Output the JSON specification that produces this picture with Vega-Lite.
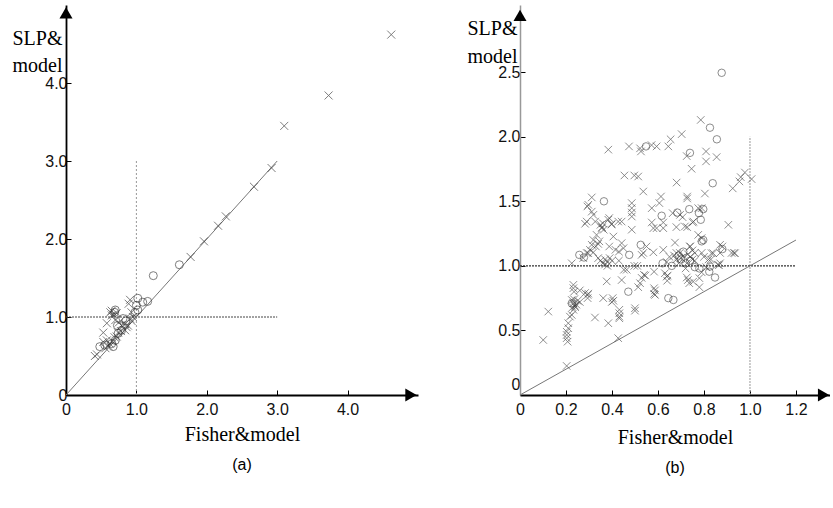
{
  "$schema": "https://vega.github.io/schema/vega-lite/v6.json",
  "padding": {"left": 12, "top": 5, "right": 0, "bottom": 0},
  "autosize": {"type": "pad"},
  "spacing": 102,
  "bounds": "flush",
  "background": "white",
  "config": {
    "view": {"stroke": null},
    "axis": {
      "grid": false,
      "labelFont": "Liberation Sans",
      "labelFontSize": 16,
      "labelColor": "#111",
      "labelFlush": false,
      "labelOverlap": false,
      "tickSize": -5,
      "tickColor": "#000",
      "tickWidth": 1,
      "domainColor": "#000",
      "domainWidth": 1.8,
      "titleFont": "Liberation Serif",
      "titleFontSize": 20,
      "titleFontWeight": "normal",
      "titleColor": "#000"
    },
    "title": {"font": "Liberation Sans", "fontSize": 16, "fontWeight": "normal", "color": "#000", "orient": "bottom", "offset": 13}
  },
  "datasets": {
    "pa": [
      {"x": 4.62, "y": 4.62, "m": "x"}, {"x": 3.73, "y": 3.84, "m": "x"}, {"x": 3.10, "y": 3.45, "m": "x"},
      {"x": 2.92, "y": 2.91, "m": "x"}, {"x": 2.67, "y": 2.67, "m": "x"}, {"x": 2.27, "y": 2.29, "m": "x"},
      {"x": 2.16, "y": 2.17, "m": "x"}, {"x": 1.96, "y": 1.97, "m": "x"}, {"x": 1.77, "y": 1.77, "m": "x"},
      {"x": 0.41, "y": 0.50, "m": "x"}, {"x": 0.44, "y": 0.52, "m": "x"}, {"x": 0.53, "y": 0.68, "m": "x"},
      {"x": 0.58, "y": 0.70, "m": "x"}, {"x": 0.53, "y": 0.80, "m": "x"}, {"x": 0.58, "y": 0.92, "m": "x"},
      {"x": 0.63, "y": 1.06, "m": "x"}, {"x": 0.65, "y": 1.08, "m": "x"}, {"x": 0.65, "y": 1.02, "m": "x"},
      {"x": 0.70, "y": 0.96, "m": "x"}, {"x": 0.75, "y": 0.93, "m": "x"}, {"x": 0.79, "y": 0.89, "m": "x"},
      {"x": 0.84, "y": 0.91, "m": "x"}, {"x": 0.74, "y": 0.80, "m": "x"}, {"x": 0.60, "y": 0.63, "m": "x"},
      {"x": 0.69, "y": 0.74, "m": "x"}, {"x": 0.84, "y": 0.83, "m": "x"}, {"x": 0.88, "y": 0.89, "m": "x"},
      {"x": 0.91, "y": 0.98, "m": "x"}, {"x": 0.93, "y": 1.06, "m": "x"}, {"x": 0.89, "y": 1.17, "m": "x"},
      {"x": 0.91, "y": 1.22, "m": "x"}, {"x": 0.95, "y": 1.00, "m": "x"}, {"x": 0.93, "y": 0.95, "m": "x"},
      {"x": 0.62, "y": 0.66, "m": "x"}, {"x": 0.66, "y": 0.69, "m": "x"}, {"x": 0.72, "y": 0.75, "m": "x"},
      {"x": 0.78, "y": 0.82, "m": "x"}, {"x": 0.86, "y": 0.87, "m": "x"}, {"x": 0.56, "y": 0.60, "m": "x"},
      {"x": 0.68, "y": 1.03, "m": "x"}, {"x": 0.72, "y": 1.05, "m": "x"},
      {"x": 1.24, "y": 1.53, "m": "o"}, {"x": 1.61, "y": 1.67, "m": "o"}, {"x": 1.09, "y": 1.19, "m": "o"},
      {"x": 1.16, "y": 1.20, "m": "o"}, {"x": 1.02, "y": 1.24, "m": "o"}, {"x": 1.02, "y": 1.09, "m": "o"},
      {"x": 0.48, "y": 0.62, "m": "o"}, {"x": 0.55, "y": 0.64, "m": "o"}, {"x": 0.69, "y": 1.06, "m": "o"},
      {"x": 0.73, "y": 0.89, "m": "o"}, {"x": 0.81, "y": 0.98, "m": "o"}, {"x": 0.79, "y": 0.83, "m": "o"},
      {"x": 0.70, "y": 0.70, "m": "o"}, {"x": 0.65, "y": 0.66, "m": "o"}, {"x": 0.98, "y": 1.06, "m": "o"},
      {"x": 1.00, "y": 1.15, "m": "o"}, {"x": 0.67, "y": 0.62, "m": "o"}, {"x": 0.74, "y": 0.79, "m": "o"},
      {"x": 0.85, "y": 0.95, "m": "o"}, {"x": 0.70, "y": 1.09, "m": "o"}
    ],
    "pb": [
      {"x": 0.877, "y": 2.495, "m": "o"}, {"x": 0.826, "y": 2.07, "m": "o"}, {"x": 0.856, "y": 1.98, "m": "o"},
      {"x": 0.548, "y": 1.925, "m": "o"}, {"x": 0.739, "y": 1.875, "m": "o"}, {"x": 0.838, "y": 1.64, "m": "o"},
      {"x": 0.365, "y": 1.50, "m": "o"}, {"x": 0.616, "y": 1.388, "m": "o"}, {"x": 0.684, "y": 1.413, "m": "o"},
      {"x": 0.736, "y": 1.439, "m": "o"}, {"x": 0.778, "y": 1.408, "m": "o"}, {"x": 0.797, "y": 1.439, "m": "o"},
      {"x": 0.786, "y": 1.357, "m": "o"}, {"x": 0.797, "y": 1.20, "m": "o"}, {"x": 0.79, "y": 1.19, "m": "o"},
      {"x": 0.258, "y": 1.085, "m": "o"}, {"x": 0.278, "y": 1.065, "m": "o"}, {"x": 0.475, "y": 1.085, "m": "o"},
      {"x": 0.525, "y": 1.163, "m": "o"}, {"x": 0.71, "y": 1.11, "m": "o"}, {"x": 0.70, "y": 1.05, "m": "o"},
      {"x": 0.72, "y": 1.02, "m": "o"}, {"x": 0.62, "y": 1.02, "m": "o"}, {"x": 0.826, "y": 0.995, "m": "o"},
      {"x": 0.823, "y": 0.955, "m": "o"}, {"x": 0.848, "y": 0.91, "m": "o"}, {"x": 0.645, "y": 0.75, "m": "o"},
      {"x": 0.667, "y": 0.736, "m": "o"}, {"x": 0.471, "y": 0.80, "m": "o"}, {"x": 0.225, "y": 0.71, "m": "o"},
      {"x": 0.69, "y": 1.08, "m": "o"}, {"x": 0.74, "y": 1.04, "m": "o"}, {"x": 0.76, "y": 0.99, "m": "o"},
      {"x": 0.78, "y": 0.98, "m": "o"}, {"x": 0.88, "y": 1.13, "m": "o"}, {"x": 0.66, "y": 1.00, "m": "o"},
      {"x": 0.786, "y": 2.13, "m": "x"}, {"x": 0.384, "y": 1.90, "m": "x"}, {"x": 0.474, "y": 1.925, "m": "x"},
      {"x": 0.522, "y": 1.91, "m": "x"}, {"x": 0.526, "y": 1.886, "m": "x"}, {"x": 0.572, "y": 1.935, "m": "x"},
      {"x": 0.594, "y": 1.925, "m": "x"}, {"x": 0.645, "y": 1.925, "m": "x"}, {"x": 0.655, "y": 1.98, "m": "x"},
      {"x": 0.703, "y": 2.02, "m": "x"}, {"x": 0.725, "y": 1.85, "m": "x"}, {"x": 0.809, "y": 1.886, "m": "x"},
      {"x": 0.809, "y": 1.809, "m": "x"}, {"x": 0.855, "y": 1.842, "m": "x"}, {"x": 0.746, "y": 1.752, "m": "x"},
      {"x": 0.454, "y": 1.70, "m": "x"}, {"x": 0.497, "y": 1.70, "m": "x"}, {"x": 0.514, "y": 1.692, "m": "x"},
      {"x": 0.681, "y": 1.645, "m": "x"}, {"x": 0.536, "y": 1.576, "m": "x"}, {"x": 0.727, "y": 1.537, "m": "x"},
      {"x": 0.727, "y": 1.522, "m": "x"}, {"x": 0.804, "y": 1.56, "m": "x"}, {"x": 0.925, "y": 1.60, "m": "x"},
      {"x": 0.954, "y": 1.654, "m": "x"}, {"x": 0.96, "y": 1.687, "m": "x"}, {"x": 0.978, "y": 1.723, "m": "x"},
      {"x": 1.007, "y": 1.672, "m": "x"}, {"x": 0.613, "y": 1.537, "m": "x"}, {"x": 0.606, "y": 1.486, "m": "x"},
      {"x": 0.573, "y": 1.447, "m": "x"}, {"x": 0.486, "y": 1.486, "m": "x"}, {"x": 0.486, "y": 1.447, "m": "x"},
      {"x": 0.486, "y": 1.413, "m": "x"}, {"x": 0.486, "y": 1.382, "m": "x"}, {"x": 0.664, "y": 1.408, "m": "x"},
      {"x": 0.696, "y": 1.395, "m": "x"}, {"x": 0.775, "y": 1.447, "m": "x"}, {"x": 0.79, "y": 1.447, "m": "x"},
      {"x": 0.754, "y": 1.343, "m": "x"}, {"x": 0.717, "y": 1.305, "m": "x"}, {"x": 0.906, "y": 1.318, "m": "x"},
      {"x": 0.573, "y": 1.336, "m": "x"}, {"x": 0.58, "y": 1.292, "m": "x"}, {"x": 0.594, "y": 1.292, "m": "x"},
      {"x": 0.623, "y": 1.292, "m": "x"}, {"x": 0.623, "y": 1.336, "m": "x"}, {"x": 0.355, "y": 1.292, "m": "x"},
      {"x": 0.384, "y": 1.357, "m": "x"}, {"x": 0.399, "y": 1.326, "m": "x"}, {"x": 0.427, "y": 1.343, "m": "x"},
      {"x": 0.442, "y": 1.343, "m": "x"}, {"x": 0.486, "y": 1.28, "m": "x"}, {"x": 0.406, "y": 1.227, "m": "x"},
      {"x": 0.775, "y": 1.24, "m": "x"}, {"x": 0.79, "y": 1.215, "m": "x"}, {"x": 0.707, "y": 1.377, "m": "x"},
      {"x": 0.727, "y": 1.30, "m": "x"}, {"x": 0.751, "y": 1.336, "m": "x"},
      {"x": 0.297, "y": 1.473, "m": "x"}, {"x": 0.312, "y": 1.53, "m": "x"}, {"x": 0.293, "y": 1.46, "m": "x"},
      {"x": 0.312, "y": 1.42, "m": "x"}, {"x": 0.319, "y": 1.395, "m": "x"}, {"x": 0.29, "y": 1.343, "m": "x"},
      {"x": 0.283, "y": 1.326, "m": "x"}, {"x": 0.327, "y": 1.343, "m": "x"}, {"x": 0.35, "y": 1.318, "m": "x"},
      {"x": 0.357, "y": 1.30, "m": "x"}, {"x": 0.364, "y": 1.28, "m": "x"}, {"x": 0.36, "y": 1.33, "m": "x"},
      {"x": 0.388, "y": 1.37, "m": "x"}, {"x": 0.398, "y": 1.32, "m": "x"}, {"x": 0.333, "y": 1.24, "m": "x"},
      {"x": 0.319, "y": 1.20, "m": "x"}, {"x": 0.345, "y": 1.19, "m": "x"}, {"x": 0.312, "y": 1.163, "m": "x"},
      {"x": 0.304, "y": 1.124, "m": "x"}, {"x": 0.297, "y": 1.098, "m": "x"}, {"x": 0.388, "y": 1.15, "m": "x"},
      {"x": 0.415, "y": 1.124, "m": "x"}, {"x": 0.43, "y": 1.11, "m": "x"}, {"x": 0.442, "y": 1.176, "m": "x"},
      {"x": 0.45, "y": 1.137, "m": "x"}, {"x": 0.275, "y": 1.06, "m": "x"}, {"x": 0.225, "y": 1.02, "m": "x"},
      {"x": 0.34, "y": 1.06, "m": "x"}, {"x": 0.35, "y": 1.04, "m": "x"}, {"x": 0.36, "y": 1.02, "m": "x"},
      {"x": 0.37, "y": 1.05, "m": "x"}, {"x": 0.38, "y": 1.03, "m": "x"}, {"x": 0.39, "y": 1.06, "m": "x"},
      {"x": 0.40, "y": 1.04, "m": "x"}, {"x": 0.37, "y": 1.01, "m": "x"}, {"x": 0.38, "y": 1.00, "m": "x"},
      {"x": 0.43, "y": 1.04, "m": "x"}, {"x": 0.464, "y": 0.97, "m": "x"}, {"x": 0.497, "y": 1.00, "m": "x"},
      {"x": 0.51, "y": 1.00, "m": "x"}, {"x": 0.529, "y": 1.085, "m": "x"}, {"x": 0.536, "y": 1.10, "m": "x"},
      {"x": 0.55, "y": 1.15, "m": "x"}, {"x": 0.539, "y": 0.93, "m": "x"}, {"x": 0.529, "y": 0.907, "m": "x"},
      {"x": 0.522, "y": 0.866, "m": "x"}, {"x": 0.514, "y": 0.835, "m": "x"}, {"x": 0.442, "y": 0.89, "m": "x"},
      {"x": 0.377, "y": 0.88, "m": "x"}, {"x": 0.232, "y": 0.853, "m": "x"}, {"x": 0.232, "y": 0.827, "m": "x"},
      {"x": 0.26, "y": 0.81, "m": "x"}, {"x": 0.283, "y": 0.79, "m": "x"}, {"x": 0.297, "y": 0.785, "m": "x"},
      {"x": 0.225, "y": 0.736, "m": "x"}, {"x": 0.232, "y": 0.71, "m": "x"}, {"x": 0.239, "y": 0.69, "m": "x"},
      {"x": 0.229, "y": 0.68, "m": "x"}, {"x": 0.362, "y": 0.75, "m": "x"}, {"x": 0.403, "y": 0.75, "m": "x"},
      {"x": 0.399, "y": 0.72, "m": "x"}, {"x": 0.101, "y": 0.426, "m": "x"}, {"x": 0.123, "y": 0.646, "m": "x"},
      {"x": 0.203, "y": 0.49, "m": "x"}, {"x": 0.203, "y": 0.465, "m": "x"}, {"x": 0.203, "y": 0.44, "m": "x"},
      {"x": 0.207, "y": 0.413, "m": "x"}, {"x": 0.21, "y": 0.517, "m": "x"}, {"x": 0.21, "y": 0.556, "m": "x"},
      {"x": 0.203, "y": 0.225, "m": "x"}, {"x": 0.225, "y": 0.62, "m": "x"}, {"x": 0.232, "y": 0.66, "m": "x"},
      {"x": 0.217, "y": 0.607, "m": "x"}, {"x": 0.235, "y": 0.74, "m": "x"}, {"x": 0.245, "y": 0.70, "m": "x"},
      {"x": 0.25, "y": 0.73, "m": "x"}, {"x": 0.24, "y": 0.68, "m": "x"}, {"x": 0.26, "y": 0.72, "m": "x"},
      {"x": 0.235, "y": 0.80, "m": "x"}, {"x": 0.294, "y": 0.775, "m": "x"}, {"x": 0.294, "y": 0.75, "m": "x"},
      {"x": 0.326, "y": 0.60, "m": "x"}, {"x": 0.406, "y": 0.73, "m": "x"}, {"x": 0.384, "y": 0.556, "m": "x"},
      {"x": 0.427, "y": 0.44, "m": "x"}, {"x": 0.432, "y": 0.66, "m": "x"}, {"x": 0.432, "y": 0.633, "m": "x"},
      {"x": 0.432, "y": 0.607, "m": "x"}, {"x": 0.432, "y": 0.594, "m": "x"}, {"x": 0.50, "y": 0.672, "m": "x"},
      {"x": 0.50, "y": 0.653, "m": "x"}, {"x": 0.583, "y": 0.955, "m": "x"}, {"x": 0.583, "y": 0.827, "m": "x"},
      {"x": 0.583, "y": 0.783, "m": "x"}, {"x": 0.545, "y": 0.925, "m": "x"}, {"x": 0.452, "y": 0.97, "m": "x"},
      {"x": 0.29, "y": 1.10, "m": "x"}, {"x": 0.33, "y": 1.15, "m": "x"}, {"x": 0.34, "y": 1.17, "m": "x"},
      {"x": 0.319, "y": 1.105, "m": "x"},
      {"x": 0.623, "y": 1.124, "m": "x"}, {"x": 0.58, "y": 1.105, "m": "x"}, {"x": 0.674, "y": 1.18, "m": "x"},
      {"x": 0.68, "y": 1.10, "m": "x"}, {"x": 0.695, "y": 1.10, "m": "x"}, {"x": 0.74, "y": 1.15, "m": "x"},
      {"x": 0.75, "y": 1.12, "m": "x"}, {"x": 0.76, "y": 1.10, "m": "x"}, {"x": 0.74, "y": 1.07, "m": "x"},
      {"x": 0.75, "y": 1.05, "m": "x"}, {"x": 0.65, "y": 1.07, "m": "x"}, {"x": 0.67, "y": 1.08, "m": "x"},
      {"x": 0.68, "y": 1.05, "m": "x"}, {"x": 0.69, "y": 1.02, "m": "x"}, {"x": 0.725, "y": 1.02, "m": "x"},
      {"x": 0.638, "y": 1.03, "m": "x"}, {"x": 0.833, "y": 1.098, "m": "x"}, {"x": 0.79, "y": 1.10, "m": "x"},
      {"x": 0.80, "y": 1.07, "m": "x"}, {"x": 0.82, "y": 1.05, "m": "x"}, {"x": 0.87, "y": 1.163, "m": "x"},
      {"x": 0.88, "y": 1.15, "m": "x"}, {"x": 0.87, "y": 1.10, "m": "x"}, {"x": 0.93, "y": 1.10, "m": "x"},
      {"x": 0.92, "y": 1.10, "m": "x"}, {"x": 0.86, "y": 1.01, "m": "x"}, {"x": 0.87, "y": 1.02, "m": "x"},
      {"x": 0.83, "y": 1.05, "m": "x"}, {"x": 0.63, "y": 0.943, "m": "x"}, {"x": 0.638, "y": 0.917, "m": "x"},
      {"x": 0.587, "y": 0.81, "m": "x"}, {"x": 0.587, "y": 0.775, "m": "x"}, {"x": 0.72, "y": 0.98, "m": "x"},
      {"x": 0.725, "y": 0.91, "m": "x"}, {"x": 0.73, "y": 0.89, "m": "x"}, {"x": 0.736, "y": 0.866, "m": "x"},
      {"x": 0.753, "y": 0.878, "m": "x"}, {"x": 0.78, "y": 0.905, "m": "x"}, {"x": 0.78, "y": 0.835, "m": "x"},
      {"x": 0.81, "y": 0.99, "m": "x"}, {"x": 0.79, "y": 0.95, "m": "x"}, {"x": 0.739, "y": 1.15, "m": "x"},
      {"x": 0.84, "y": 1.098, "m": "x"}, {"x": 0.935, "y": 1.098, "m": "x"}, {"x": 0.70, "y": 1.06, "m": "x"},
      {"x": 0.715, "y": 1.07, "m": "x"}, {"x": 0.73, "y": 1.09, "m": "x"}, {"x": 0.76, "y": 1.04, "m": "x"},
      {"x": 0.64, "y": 0.885, "m": "x"}, {"x": 0.642, "y": 0.925, "m": "x"}, {"x": 0.68, "y": 1.30, "m": "x"},
      {"x": 0.865, "y": 1.005, "m": "x"}
    ],
    "ra": [
      {"kind": "diag", "x": 0, "y": 0, "x2": 3, "y2": 3},
      {"kind": "h", "x": 0, "y": 1, "x2": 3, "y2": 1},
      {"kind": "v", "x": 1, "y": 0, "x2": 1, "y2": 3}
    ],
    "rb": [
      {"kind": "diag", "x": 0, "y": 0, "x2": 1.2, "y2": 1.2},
      {"kind": "h", "x": 0, "y": 1, "x2": 1.2, "y2": 1},
      {"kind": "v", "x": 1, "y": 0, "x2": 1, "y2": 2}
    ],
    "aa": [
      {"dir": "right", "x": 4.9, "y": 0},
      {"dir": "up", "x": 0, "y": 4.9}
    ],
    "ab": [
      {"dir": "right", "x": 1.32, "y": 0},
      {"dir": "up", "x": 0, "y": 2.94}
    ]
  },
  "hconcat": [
    {
      "width": 352,
      "height": 390,
      "title": {"text": "(a)"},
      "encoding": {
        "x": {
          "field": "x", "type": "quantitative",
          "scale": {"domain": [0, 5], "nice": false, "zero": false},
          "axis": {
            "title": "Fisher&model", "titleY": 45, "titleBaseline": "alphabetic",
            "values": [0, 1, 2, 3, 4],
            "labelExpr": "datum.value == 0 ? '0' : format(datum.value, '.1f')",
            "labelPadding": 11
          }
        },
        "y": {
          "field": "y", "type": "quantitative",
          "scale": {"domain": [0, 5], "nice": false, "zero": false},
          "axis": {
            "title": ["SLP&", "model"], "titleAngle": 0, "titleAlign": "left", "titleBaseline": "alphabetic",
            "titleX": -54, "titleY": 39, "titleLineHeight": 27,
            "values": [0, 1, 2, 3, 4],
            "labelExpr": "datum.value == 0 ? '0' : format(datum.value, '.1f')",
            "labelPadding": 4
          }
        }
      },
      "layer": [
        {
          "data": {"name": "ra"},
          "transform": [{"filter": "datum.kind == 'v'"}],
          "mark": {"type": "rule", "color": "#999", "strokeDash": [2, 2], "strokeWidth": 1},
          "encoding": {"x2": {"field": "x2"}, "y2": {"field": "y2"}}
        },
        {
          "data": {"name": "ra"},
          "transform": [{"filter": "datum.kind == 'h'"}],
          "mark": {"type": "rule", "color": "#444", "strokeDash": [2, 1], "strokeWidth": 1},
          "encoding": {"x2": {"field": "x2"}, "y2": {"field": "y2"}}
        },
        {
          "data": {"name": "ra"},
          "transform": [{"filter": "datum.kind == 'diag'"}],
          "mark": {"type": "rule", "color": "#777", "strokeWidth": 1},
          "encoding": {"x2": {"field": "x2"}, "y2": {"field": "y2"}}
        },
        {
          "data": {"name": "pa"},
          "mark": {"type": "point", "filled": false, "color": "#333", "strokeWidth": 0.9, "size": 64},
          "encoding": {
            "shape": {"field": "m", "type": "nominal", "scale": {"domain": ["x", "o"], "range": ["M-1,-1L1,1M-1,1L1,-1", "circle"]}, "legend": null}
          }
        },
        {
          "data": {"name": "aa"},
          "transform": [{"filter": "datum.dir == 'right'"}],
          "mark": {"type": "point", "shape": "triangle-right", "filled": true, "color": "#000", "size": 170, "opacity": 1}
        },
        {
          "data": {"name": "aa"},
          "transform": [{"filter": "datum.dir == 'up'"}],
          "mark": {"type": "point", "shape": "triangle-up", "filled": true, "color": "#000", "size": 170, "opacity": 1}
        }
      ]
    },
    {
      "width": 310,
      "height": 390,
      "title": {"text": "(b)"},
      "encoding": {
        "x": {
          "field": "x", "type": "quantitative",
          "scale": {"domain": [0, 1.348], "nice": false, "zero": false},
          "axis": {
            "title": "Fisher&model", "titleY": 48, "titleBaseline": "alphabetic",
            "values": [0, 0.2, 0.4, 0.6, 0.8, 1.0, 1.2],
            "labelExpr": "datum.value == 0 ? '0' : format(datum.value, '.1f')",
            "labelPadding": 11
          }
        },
        "y": {
          "field": "y", "type": "quantitative",
          "scale": {"domain": [0, 3.02], "nice": false, "zero": false},
          "axis": {
            "title": ["SLP&", "model"], "titleAngle": 0, "titleAlign": "left", "titleBaseline": "alphabetic",
            "titleX": -53, "titleY": 29, "titleLineHeight": 28,
            "values": [0, 0.5, 1.0, 1.5, 2.0, 2.5],
            "labelExpr": "datum.value == 0 ? '0' : format(datum.value, '.1f')",
            "labelPadding": 5,
            "labelOffset": {"condition": {"test": "datum.value == 0", "value": -11}, "value": 0},
            "domainColor": "#999",
            "domainWidth": 1.5
          }
        }
      },
      "layer": [
        {
          "data": {"name": "rb"},
          "transform": [{"filter": "datum.kind == 'v'"}],
          "mark": {"type": "rule", "color": "#aaa", "strokeDash": [2, 1], "strokeWidth": 1.2},
          "encoding": {"x2": {"field": "x2"}, "y2": {"field": "y2"}}
        },
        {
          "data": {"name": "rb"},
          "transform": [{"filter": "datum.kind == 'h'"}],
          "mark": {"type": "rule", "color": "#333", "strokeDash": [2, 1], "strokeWidth": 1.2},
          "encoding": {"x2": {"field": "x2"}, "y2": {"field": "y2"}}
        },
        {
          "data": {"name": "rb"},
          "transform": [{"filter": "datum.kind == 'diag'"}],
          "mark": {"type": "rule", "color": "#777", "strokeWidth": 1},
          "encoding": {"x2": {"field": "x2"}, "y2": {"field": "y2"}}
        },
        {
          "data": {"name": "pb"},
          "mark": {"type": "point", "filled": false, "color": "#333", "strokeWidth": 0.8, "size": 56},
          "encoding": {
            "shape": {"field": "m", "type": "nominal", "scale": {"domain": ["x", "o"], "range": ["M-1,-1L1,1M-1,1L1,-1", "circle"]}, "legend": null}
          }
        },
        {
          "data": {"name": "ab"},
          "transform": [{"filter": "datum.dir == 'right'"}],
          "mark": {"type": "point", "shape": "triangle-right", "filled": true, "color": "#000", "size": 170, "opacity": 1}
        },
        {
          "data": {"name": "ab"},
          "transform": [{"filter": "datum.dir == 'up'"}],
          "mark": {"type": "point", "shape": "triangle-up", "filled": true, "color": "#000", "size": 170, "opacity": 1}
        }
      ]
    }
  ]
}
